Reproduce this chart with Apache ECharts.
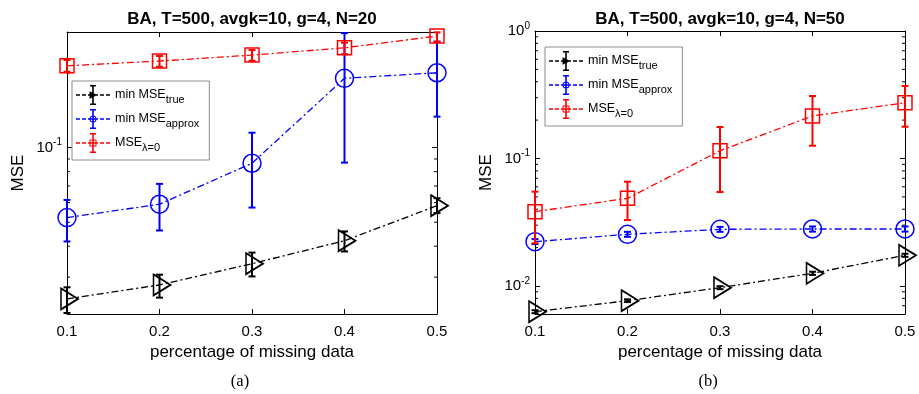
<!DOCTYPE html>
<html>
<head>
<meta charset="utf-8">
<script src="https://cdn.jsdelivr.net/npm/echarts@6.0.0/dist/echarts.min.js"></script>
<style>
  html, body { margin: 0; padding: 0; background: #fff; }
  #chart { width: 919px; height: 394px; }
</style>
</head>
<body>
<div id="chart"></div>
<script>
// x positions (fraction of missing data)
const xTicks = [0.1, 0.2, 0.3, 0.4, 0.5];

// panel (a): N=20
const aTrueMean = [0.0245, 0.0279, 0.0340, 0.0421, 0.0583];
const aTrueLo = [0.0215, 0.0248, 0.0302, 0.0381, 0.0544];
const aTrueHi = [0.0273, 0.0307, 0.0377, 0.0459, 0.0625];
const aApproxMean = [0.0522, 0.0591, 0.0865, 0.1905, 0.2006];
const aApproxLo = [0.0418, 0.0463, 0.0573, 0.0870, 0.1334];
const aApproxHi = [0.0615, 0.0714, 0.1149, 0.2900, 0.2680];
const aZeroMean = [0.2140, 0.2237, 0.2364, 0.2530, 0.2821];
const aZeroLo = [0.2025, 0.2121, 0.2243, 0.2385, 0.2675];
const aZeroHi = [0.2258, 0.2343, 0.2477, 0.2651, 0.2920];

// panel (b): N=50
const bTrueMean = [0.00629, 0.00767, 0.00970, 0.01258, 0.01741];
const bTrueLo = [0.00612, 0.00748, 0.00944, 0.01222, 0.01693];
const bTrueHi = [0.00646, 0.00786, 0.00996, 0.01294, 0.01789];
const bApproxMean = [0.02226, 0.02543, 0.02784, 0.02800, 0.02800];
const bApproxLo = [0.0213, 0.0243, 0.0266, 0.0267, 0.0267];
const bApproxHi = [0.0233, 0.0266, 0.0291, 0.0293, 0.0293];
const bZeroMean = [0.0383, 0.0487, 0.1151, 0.2155, 0.2740];
const bZeroLo = [0.0216, 0.0329, 0.0546, 0.1260, 0.1776];
const bZeroHi = [0.0549, 0.0658, 0.1767, 0.3092, 0.3703];

// y ranges and minor ticks of the log axes
const aYRange = [0.0213, 0.293];
const bYRange = [0.00603, 1];
const aMinorTicks = [0.03, 0.04, 0.05, 0.06, 0.07, 0.08, 0.09, 0.2];
const bMinorTicks = [0.007, 0.008, 0.009, 0.02, 0.03, 0.04, 0.05, 0.06, 0.07, 0.08, 0.09,
                     0.2, 0.3, 0.4, 0.5, 0.6, 0.7, 0.8, 0.9];

const titles = ['BA, T=500, avgk=10, g=4, N=20', 'BA, T=500, avgk=10, g=4, N=50'];
const captions = ['(a)', '(b)'];
const seriesNames = ['true', 'approx', 'zero'];
const legendLabels = {
    true: '{m|min MSE}{s|true}',
    approx: '{m|min MSE}{s|approx}',
    zero: '{m|MSE}{s|λ=0}'
};

const FONT = '"Liberation Sans", Arial, Helvetica, sans-serif';
const colors = ['#000000', '#0000ff', '#ff0000'];

// legend icons: dashed line + errorbar + small marker (34x20 box)
const iconBase = 'M0,9.3h4v1.4h-4z M6,9.3h4v1.4h-4z M12,9.3h10v1.4h-10z M24,9.3h4v1.4h-4z M30,9.3h4v1.4h-4z ' +
    'M16.2,0h1.6v20h-1.6z M14,0h6v1.6h-6z M14,18.4h6v1.6h-6z ';
const icons = [
    'path://' + iconBase + 'M13.5,6.2L21.5,10L13.5,13.8z',
    'path://' + iconBase + 'M20.5,10A3.5,3.5,0,1,1,13.5,10A3.5,3.5,0,1,1,20.5,10Z M19.5,10A2.5,2.5,0,1,0,14.5,10A2.5,2.5,0,1,0,19.5,10Z',
    'path://' + iconBase + 'M13.5,6.5H20.5V13.5H13.5Z M14.5,7.5V12.5H19.5V7.5Z'
];

const markers = [
    { symbol: 'path://M0,0L17,10.5L0,21Z', symbolSize: [17, 21], symbolOffset: [2.5, 0], border: 1.7 },
    { symbol: 'circle', symbolSize: 18, symbolOffset: [0, 0], border: 1.5 },
    { symbol: 'rect', symbolSize: 14, symbolOffset: [0, 0], border: 1.5 }
];

const grids = [
    { left: 67, top: 32, width: 370, height: 282 },
    { left: 535, top: 31, width: 370, height: 283 }
];

const chart = echarts.init(document.getElementById('chart'));

function xAxes(g) {
    const base = {
        type: 'value', gridIndex: g, min: 0.1, max: 0.5, interval: 0.1,
        splitLine: { show: false },
        axisLine: { show: true, onZero: false, lineStyle: { color: '#000', width: 1 } },
        axisTick: { show: true, inside: true, length: 5, lineStyle: { color: '#000', width: 1 } }
    };
    return [
        Object.assign({}, base, {
            position: 'bottom',
            axisLabel: { margin: 10, color: '#000', fontSize: 15, fontFamily: FONT,
                         formatter: v => v.toFixed(1) },
            name: 'percentage of missing data', nameLocation: 'middle', nameGap: 30,
            nameTextStyle: { color: '#000', fontSize: 17, fontFamily: FONT }
        }),
        Object.assign({}, base, { position: 'top', axisLabel: { show: false } })
    ];
}

function yAxes(g, range) {
    const base = {
        type: 'log', logBase: 10, gridIndex: g, min: range[0], max: range[1],
        splitLine: { show: false }, minorTick: { show: false },
        axisLine: { show: true, onZero: false, lineStyle: { color: '#000', width: 1 } },
        axisTick: { show: true, inside: true, length: 5, lineStyle: { color: '#000', width: 1 } }
    };
    return [
        Object.assign({}, base, {
            position: 'left',
            axisLabel: {
                margin: 5, color: '#000', fontFamily: FONT,
                formatter: function (v) {
                    const l = Math.log10(v);
                    const e = Math.round(l);
                    if (Math.abs(l - e) > 1e-6) return '';
                    return '{b|10}{p|' + e + '}';
                },
                rich: {
                    b: { fontSize: 15, fontFamily: FONT, color: '#000', lineHeight: 20 },
                    p: { fontSize: 10, fontFamily: FONT, color: '#000', lineHeight: 10, verticalAlign: 'top' }
                }
            },
            name: 'MSE', nameLocation: 'middle', nameGap: 40,
            nameTextStyle: { color: '#000', fontSize: 17, fontFamily: FONT }
        }),
        Object.assign({}, base, { position: 'right', axisLabel: { show: false } })
    ];
}

function panelSeries(g, means, los, his, minors) {
    const xi = g * 2, yi = g * 2;
    const out = [];
    // minor ticks on the log axes, both sides
    out.push({
        type: 'custom', xAxisIndex: xi, yAxisIndex: yi, silent: true, z: 1,
        data: minors.map(v => [xTicks[0], v]),
        encode: { x: 0, y: 1 },
        renderItem: function (params, api) {
            const v = api.value(1);
            const pl = api.coord([xTicks[0], v]);
            const pr = api.coord([xTicks[xTicks.length - 1], v]);
            const st = { stroke: '#000', lineWidth: 1 };
            return {
                type: 'group', children: [
                    { type: 'line', shape: { x1: pl[0], y1: pl[1], x2: pl[0] + 3, y2: pl[1] }, style: st },
                    { type: 'line', shape: { x1: pr[0] - 3, y1: pr[1], x2: pr[0], y2: pr[1] }, style: st }
                ]
            };
        }
    });
    for (let k = 0; k < 3; k++) {
        const c = colors[k];
        out.push({
            type: 'custom', name: seriesNames[k], xAxisIndex: xi, yAxisIndex: yi, z: 3 + k * 2,
            data: xTicks.map((x, i) => [x, los[k][i], his[k][i]]),
            encode: { x: 0, y: [1, 2] },
            renderItem: function (params, api) {
                const x = api.value(0);
                const p1 = api.coord([x, api.value(1)]);
                const p2 = api.coord([x, api.value(2)]);
                const st = { stroke: c, lineWidth: 2 };
                const hw = 3.5;
                return {
                    type: 'group', children: [
                        { type: 'line', shape: { x1: p1[0], y1: p1[1], x2: p2[0], y2: p2[1] }, style: st },
                        { type: 'line', shape: { x1: p1[0] - hw, y1: p1[1], x2: p1[0] + hw, y2: p1[1] }, style: st },
                        { type: 'line', shape: { x1: p2[0] - hw, y1: p2[1], x2: p2[0] + hw, y2: p2[1] }, style: st }
                    ]
                };
            }
        });
        out.push({
            type: 'line', name: seriesNames[k], xAxisIndex: xi, yAxisIndex: yi, z: 4 + k * 2,
            data: xTicks.map((x, i) => [x, means[k][i]]),
            symbol: markers[k].symbol, symbolSize: markers[k].symbolSize,
            symbolOffset: markers[k].symbolOffset, showAllSymbol: true,
            itemStyle: { color: 'rgba(0,0,0,0)', borderColor: c, borderWidth: markers[k].border },
            lineStyle: { color: c, width: 1.3, type: [7, 3, 2, 3] },
            emphasis: { disabled: true }
        });
    }
    return out;
}

function legendFor(left, top) {
    return {
        left: left, top: top, orient: 'vertical', selectedMode: false,
        padding: [4, 10, 7, 4], itemGap: 4, itemWidth: 34, itemHeight: 20,
        backgroundColor: '#fff', borderColor: '#8c8c8c', borderWidth: 1, borderRadius: 0,
        data: seriesNames.map((n, i) => ({
            name: n, icon: icons[i], itemStyle: { color: colors[i], borderWidth: 0 }
        })),
        formatter: n => legendLabels[n],
        textStyle: {
            color: '#000', fontFamily: FONT, fontSize: 12.5,
            rich: {
                m: { fontSize: 12.5, fontFamily: FONT, color: '#000', lineHeight: 20 },
                s: { fontSize: 11, fontFamily: FONT, color: '#000', lineHeight: 11, verticalAlign: 'bottom' }
            }
        }
    };
}

const option = {
    animation: false,
    backgroundColor: '#fff',
    grid: grids,
    xAxis: xAxes(0).concat(xAxes(1)),
    yAxis: yAxes(0, aYRange).concat(yAxes(1, bYRange)),
    legend: [legendFor(72, 81), legendFor(545, 47)],
    series: panelSeries(0,
            [aTrueMean, aApproxMean, aZeroMean],
            [aTrueLo, aApproxLo, aZeroLo],
            [aTrueHi, aApproxHi, aZeroHi], aMinorTicks)
        .concat(panelSeries(1,
            [bTrueMean, bApproxMean, bZeroMean],
            [bTrueLo, bApproxLo, bZeroLo],
            [bTrueHi, bApproxHi, bZeroHi], bMinorTicks)),
    graphic: [
        { type: 'text', x: 252, y: 19, style: { text: titles[0], fontSize: 17, fontWeight: 'bold', fontFamily: FONT, fill: '#000', align: 'center', verticalAlign: 'middle' } },
        { type: 'text', x: 720, y: 19, style: { text: titles[1], fontSize: 17, fontWeight: 'bold', fontFamily: FONT, fill: '#000', align: 'center', verticalAlign: 'middle' } },
        { type: 'text', x: 240, y: 382, style: { text: captions[0], fontSize: 16.5, fontFamily: '"Liberation Serif", "Times New Roman", serif', fill: '#000', align: 'center', verticalAlign: 'middle' } },
        { type: 'text', x: 708, y: 382, style: { text: captions[1], fontSize: 16.5, fontFamily: '"Liberation Serif", "Times New Roman", serif', fill: '#000', align: 'center', verticalAlign: 'middle' } }
    ]
};

chart.setOption(option);
</script>
</body>
</html>
